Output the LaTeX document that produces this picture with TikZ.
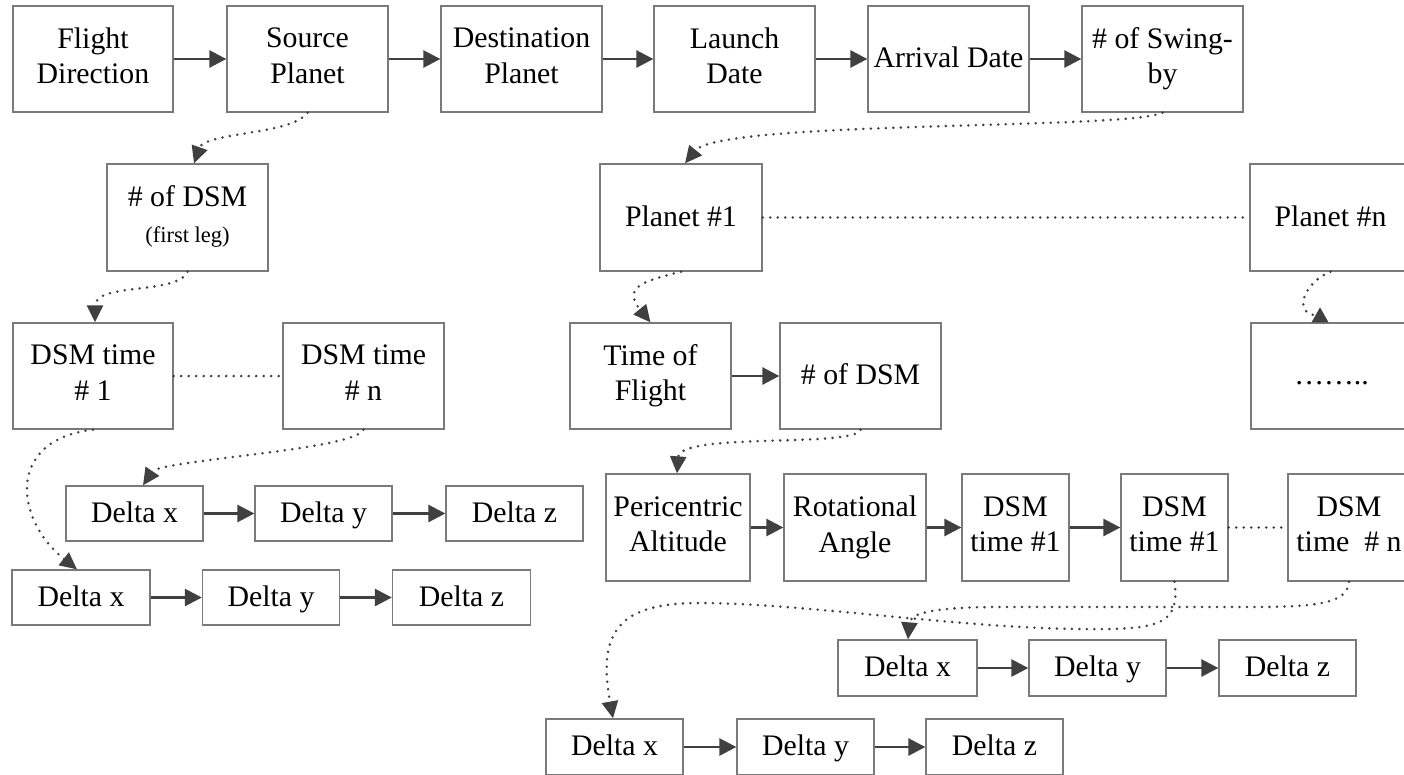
\documentclass[tikz,border=0pt]{standalone}
\usepackage{fontspec}
\setmainfont{Liberation Serif}
\usetikzlibrary{arrows.meta}
\definecolor{boxgray}{HTML}{7A7A7A}
\definecolor{arrgray}{HTML}{404040}
\begin{document}
\begin{tikzpicture}[x=1pt,y=-1pt,
  box/.style={draw=boxgray, line width=1.3pt, inner sep=0pt, align=center,
    font=\fontsize{29.8}{35.5}\selectfont,
    execute at begin node=\rule{0pt}{24pt}, execute at end node=\rule[-6.5pt]{0pt}{6.5pt}},
  sz/.style 2 args={minimum width=#1pt, minimum height=#2pt},
  ar/.style={draw=arrgray, line width=2.7pt, -{Triangle[length=17pt,width=17pt]}},
  dotl/.style={draw=arrgray, line width=2.8pt, line cap=round, dash pattern=on 0pt off 7.5pt},
  darr/.style={dotl, -{Triangle[length=17pt,width=16pt]}}
]
\useasboundingbox (0,0) rectangle (1404,774);
\clip (0,0) rectangle (1404,774);

% top row
\node[box, sz={160}{106}] (fd) at (93,59) {Flight\\Direction};
\node[box, sz={161}{106}] (sp) at (307.5,59) {Source\\Planet};
\node[box, sz={161}{106}] (dp) at (521.5,59) {Destination\\Planet};
\node[box, sz={161}{106}] (ld) at (734.5,59) {Launch\\Date};
\node[box, sz={161}{106}] (ad) at (948.5,59) {Arrival Date};
\node[box, sz={161}{106}] (sb) at (1162.5,59) {\# of Swing-\\by};

% second row
\node[box, sz={161}{107}] (ndsm1) at (187.5,217.5) {\# of DSM\\[1pt]{\fontsize{22.5}{27}\selectfont (first leg)}};
\node[box, sz={162}{107}] (p1) at (681,217.5) {Planet \#1};
\node[box, sz={161}{107}] (pn) at (1330.5,217.5) {Planet \#n};

% third row
\node[box, sz={160}{106}] (dt1) at (93,376) {DSM time\\\# 1};
\node[box, sz={161}{106}] (dtn) at (363.5,376) {DSM time\\\# n};
\node[box, sz={161}{106}] (tof) at (650.5,376) {Time of\\Flight};
\node[box, sz={161}{106}] (ndsm2) at (860.5,376) {\# of DSM};
\node[box, sz={161}{106}] (dotsbox) at (1331.5,376) {……..};

% left delta rows
\node[box, sz={137}{55}] (dxa) at (134.5,513.5) {Delta x};
\node[box, sz={137}{55}] (dya) at (323.5,513.5) {Delta y};
\node[box, sz={137}{55}] (dza) at (514.5,513.5) {Delta z};
\node[box, sz={138}{55}] (dxb) at (81,597.5) {Delta x};
\node[box, sz={137}{55}] (dyb) at (271,597.5) {Delta y};
\node[box, sz={138}{55}] (dzb) at (461.5,597.5) {Delta z};

% fourth row (right)
\node[box, sz={144}{107}] (peri) at (678,527.5) {Pericentric\\Altitude};
\node[box, sz={142}{107}] (rot) at (855,527.5) {Rotational\\Angle};
\node[box, sz={107}{107}] (d1a) at (1015.5,527.5) {DSM\\time \#1};
\node[box, sz={107}{107}] (d1b) at (1174.5,527.5) {DSM\\time \#1};
\node[box, sz={122}{107}] (dn) at (1349,527.5) {DSM\\time\ \ \# n};

% right delta rows
\node[box, sz={139}{56}] (dxc) at (907.5,668) {Delta x};
\node[box, sz={137}{56}] (dyc) at (1097.5,668) {Delta y};
\node[box, sz={137}{56}] (dzc) at (1287.5,668) {Delta z};
\node[box, sz={137}{56}] (dxd) at (614.5,747) {Delta x};
\node[box, sz={137}{56}] (dyd) at (805.5,747) {Delta y};
\node[box, sz={137}{56}] (dzd) at (994.5,747) {Delta z};

% solid arrows
\draw[ar] (fd) -- (sp);
\draw[ar] (sp) -- (dp);
\draw[ar] (dp) -- (ld);
\draw[ar] (ld) -- (ad);
\draw[ar] (ad) -- (sb);
\draw[ar] (tof) -- (ndsm2);
\draw[ar] (peri) -- (rot);
\draw[ar] (rot) -- (d1a);
\draw[ar] (d1a) -- (d1b);
\draw[ar] (dxa) -- (dya);
\draw[ar] (dya) -- (dza);
\draw[ar] (dxb) -- (dyb);
\draw[ar] (dyb) -- (dzb);
\draw[ar] (dxc) -- (dyc);
\draw[ar] (dyc) -- (dzc);
\draw[ar] (dxd) -- (dyd);
\draw[ar] (dyd) -- (dzd);

% dotted straight links
\draw[dotl] (dt1) -- (dtn);
\draw[dotl] (p1) -- (pn);
\draw[dotl] (d1b) -- (dn);

% dotted curved arrows
\draw[darr] (sp.south) .. controls (292,135) and (205,132) .. ([xshift=6.5pt]ndsm1.north);
\draw[darr] (ndsm1.south) .. controls (178,295) and (95,282) .. ([xshift=2pt]dt1.north);
\draw[darr] (sb.south) .. controls (1130,130) and (720,120) .. ([xshift=4pt]p1.north);
\draw[darr] (p1.south) .. controls (650,280) and (620,285) .. (tof.north);
\draw[dotl] (pn.south) .. controls (1305,282) and (1292,312) .. ([shift={(-16,-7)}]dotsbox.north);
\fill[arrgray] ([shift={(-11.5,-15)}]dotsbox.north) -- ([shift={(-20,0)}]dotsbox.north) -- ([shift={(-3,0)}]dotsbox.north) -- cycle;
\draw[darr] (ndsm2.south) .. controls (855,448) and (680,432) .. ([xshift=-1pt]peri.north);
\draw[darr] (dt1.south) .. controls (5,440) and (15,520) .. ([xshift=-4pt]dxb.north);
\draw[darr] (dtn.south) .. controls (355,450) and (160,460) .. ([xshift=8.5pt]dxa.north);
\draw[darr] (d1b.south) .. controls (1180,625) and (1160,630) .. (1080,629)
  .. controls (960,628) and (800,603) .. (700,603)
  .. controls (620,603) and (597,630) .. ([xshift=-1.5pt]dxd.north);
\draw[darr] (dn.south) .. controls (1347,603) and (1320,607) .. (1250,607) -- (1000,607)
  .. controls (925,607) and (910,615) .. ([xshift=0.5pt]dxc.north);
\end{tikzpicture}
\end{document}
